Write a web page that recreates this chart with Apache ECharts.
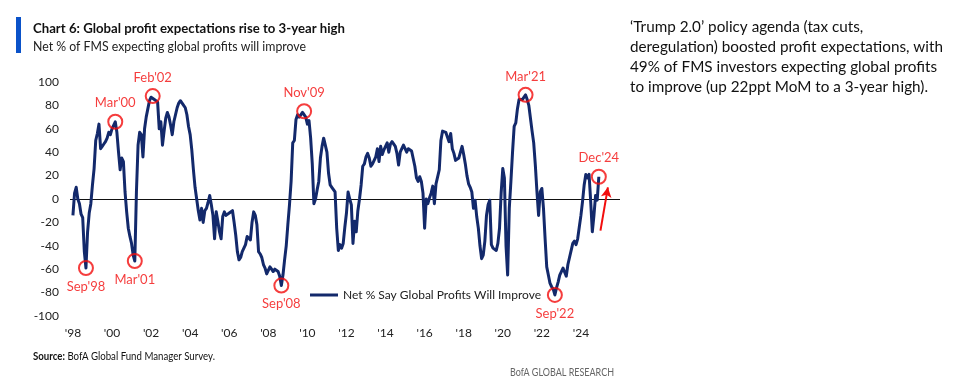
<!DOCTYPE html>
<html>
<head>
<meta charset="utf-8">
<script src="https://cdn.jsdelivr.net/npm/echarts@6/dist/echarts.min.js"></script>
<style>
html,body{margin:0;padding:0;background:#fff;}
#chart{width:956px;height:386px;}
</style>
</head>
<body>
<div id="chart"></div>
<script>
// ---- Data (monthly, Jan..Dec), net % expecting global profits to improve ----
const v1998 = [-14, 5, 10, 0, -4, -13, -16, -45, -59, -28, -12, -4];
const v1999 = [12, 26, 50, 56, 64, 43, 45, 47, 49, 52, 57, 55];
const v2000 = [60, 63, 66, 57, 40, 25, 35, 32, 6, -11, -25, -32];
const v2001 = [-38, -48, -53, 6, 46, 57, 55, 36, 60, 70, 77, 84];
const v2002 = [87, 88, 85, 84, 83, 60, 66, 46, 58, 69, 74, 70];
const v2003 = [63, 55, 66, 72, 78, 82, 84, 83, 80, 78, 72, 62];
const v2004 = [55, 42, 25, 10, 0, -10, -18, -8, -20, -10, -8, -3];
const v2005 = [3, -5, -14, -34, -11, -19, -28, -34, -15, -11, -14, -13];
const v2006 = [-12, -11, -10, -20, -31, -45, -52, -50, -45, -42, -39, -32];
const v2007 = [-33, -35, -20, -11, -14, -22, -45, -47, -50, -56, -59, -64];
const v2008 = [-63, -58, -60, -62, -60, -59, -62, -66, -74, -65, -52, -40];
const v2009 = [-22, -5, 15, 48, 50, 68, 72, 70, 71, 74, 75, 70];
const v2010 = [64, 67, 52, 30, -4, 0, 8, 15, 35, 45, 52, 52];
const v2011 = [40, 22, 12, 10, 8, 6, -25, -44, -39, -42, -38, -24];
const v2012 = [-12, 6, 0, -5, -38, -19, -28, -10, 0, 12, 28, 30];
const v2013 = [36, 39, 35, 28, 30, 29, 36, 43, 32, 45, 38, 42];
const v2014 = [45, 48, 40, 47, 49, 48, 45, 39, 29, 40, 39, 46];
const v2015 = [43, 40, 43, 42, 41, 40, 28, 18, 15, 19, 15, 5];
const v2016 = [-25, 0, -4, 1, 5, 11, -4, 13, 12, 25, 50, 58];
const v2017 = [58, 57, 56, 49, 56, 43, 39, 33, 34, 35, 40, 45];
const v2018 = [38, 30, 20, 13, 10, 6, -8, -1, -15, -25, -40, -51];
const v2019 = [-48, -36, -14, -5, -1, -39, -42, -43, -44, -38, -25, 5];
const v2020 = [26, 18, -40, -65, -8, 15, 40, 62, 65, 77, 85, 85];
const v2021 = [85, 86, 89, 85, 80, 69, 58, 48, 29, 6, -14, 6];
const v2022 = [9, -8, -34, -58, -65, -72, -75, -77, -82, -76, -71, -65];
const v2023 = [-62, -59, -58, -66, -56, -50, -49, -38, -36, -39, -34, -24];
const v2024 = [-14, -2, 12, 21, 18, 21, -2, -28, -14, 3, -1, 19];

const years = [1998,1999,2000,2001,2002,2003,2004,2005,2006,2007,2008,2009,2010,2011,2012,2013,2014,2015,2016,2017,2018,2019,2020,2021,2022,2023,2024];
const yearValues = [v1998,v1999,v2000,v2001,v2002,v2003,v2004,v2005,v2006,v2007,v2008,v2009,v2010,v2011,v2012,v2013,v2014,v2015,v2016,v2017,v2018,v2019,v2020,v2021,v2022,v2023,v2024];

const xTickYears = [1998,2000,2002,2004,2006,2008,2010,2012,2014,2016,2018,2020,2022,2024];
const yTicks = [-100,-80,-60,-40,-20,0,20,40,60,80,100];

const seriesName = 'Net % Say Global Profits Will Improve';

// annotations: label, year, month (1-12), label side
const annLabels = ["Sep'98", "Mar'00", "Mar'01", "Feb'02", "Sep'08", "Nov'09", "Mar'21", "Sep'22", "Dec'24"];
const annYears  = [1998, 2000, 2001, 2002, 2008, 2009, 2021, 2022, 2024];
const annMonths = [9, 3, 3, 2, 9, 11, 3, 9, 12];
const annSides  = ['bottom','top','bottom','top','bottom','top','top','bottom','top'];

// arrow annotation (data space): from, to
const arrowFrom = [2025.0, -27];
const arrowTo = [2025.38, 10];

const titleText = 'Chart 6: Global profit expectations rise to 3-year high';
const subtitleText = 'Net % of FMS expecting global profits will improve';
const noteLines = [
  '‘Trump 2.0’ policy agenda (tax cuts,',
  'deregulation) boosted profit expectations, with',
  '49% of FMS investors expecting global profits',
  'to improve (up 22ppt MoM to a 3-year high).'
];
const sourceBold = 'Source:';
const sourceText = ' BofA Global Fund Manager Survey.';
const brandText = 'BofA GLOBAL RESEARCH';

// ---- build ----
const lineData = [];
years.forEach((y, i) => {
  yearValues[i].forEach((v, m) => lineData.push([y + m / 12, v]));
});
const annData = annLabels.map((lab, i) => {
  const yi = years.indexOf(annYears[i]);
  const v = yearValues[yi][annMonths[i] - 1];
  return {
    value: [annYears[i] + (annMonths[i] - 1) / 12, v],
    name: lab,
    label: { position: annSides[i] }
  };
});

const FONT = 'Lato, "Noto Sans", sans-serif';
const mctx = document.createElement('canvas').getContext('2d');
function tw(text, font) { mctx.font = font; return mctx.measureText(text).width; }
function fitScale(text, font, target) { const w = tw(text, font); return w > 0 ? target / w : 1; }

const titleFont = 'bold 14px ' + FONT;
const subFont = '14px ' + FONT;
const noteFont = '15px ' + FONT;
const srcBFont = 'bold 11px ' + FONT;
const srcFont = '11px ' + FONT;
const brandFont = '11px ' + FONT;

const titleScale = fitScale(titleText, titleFont, 312);
const subScale = fitScale(subtitleText, subFont, 273);
const noteScale = fitScale(noteLines[1], noteFont, 313);
const srcScale = 182 / (tw(sourceBold, srcBFont) + tw(sourceText, srcFont));
const brandScale = fitScale(brandText, brandFont, 104);

const graphics = [
  { type: 'rect', shape: { x: 16, y: 17, width: 5, height: 36 }, style: { fill: '#0a52c9' } },
  { type: 'text', x: 33, y: 28, scaleX: titleScale, style: { text: titleText, font: titleFont, fill: '#111', textVerticalAlign: 'middle' } },
  { type: 'text', x: 33, y: 46, scaleX: subScale, style: { text: subtitleText, font: subFont, fill: '#222', textVerticalAlign: 'middle' } },
  { type: 'text', x: 33, y: 356, scaleX: srcScale, style: { rich: { b: { font: srcBFont, fill: '#111' }, n: { font: srcFont, fill: '#111' } }, text: '{b|' + sourceBold + '}{n|' + sourceText + '}', textVerticalAlign: 'middle' } },
  { type: 'text', x: 614, y: 372, scaleX: brandScale, style: { text: brandText, font: brandFont, fill: '#666', textAlign: 'right', textVerticalAlign: 'middle' } }
];
noteLines.forEach((t, i) => {
  graphics.push({ type: 'text', x: 630, y: 27 + i * 20, scaleX: noteScale, style: { text: t, font: noteFont, fill: '#111', textVerticalAlign: 'middle' } });
});

const chart = echarts.init(document.getElementById('chart'), null, { renderer: 'canvas' });
chart.setOption({
  animation: false,
  backgroundColor: '#fff',
  grid: { left: 70, right: 336, top: 82, bottom: 70 },
  xAxis: {
    type: 'value',
    min: 1997.85,
    max: 2026,
    axisLine: { show: false },
    axisTick: { show: false },
    splitLine: { show: false },
    axisLabel: {
      customValues: xTickYears,
      formatter: v => "'" + String(Math.round(v)).slice(2),
      color: '#222',
      fontFamily: FONT,
      fontSize: 12,
      margin: 11
    }
  },
  yAxis: {
    type: 'value',
    min: -100,
    max: 100,
    interval: 20,
    axisLine: { show: false },
    axisTick: { show: false },
    splitLine: { show: false },
    axisLabel: { color: '#222', fontFamily: FONT, fontSize: 12, margin: 11 }
  },
  legend: {
    data: [seriesName],
    left: 305,
    top: 284,
    icon: 'rect',
    itemWidth: 28,
    itemHeight: 3,
    itemGap: 5,
    textStyle: { color: '#222', fontFamily: FONT, fontSize: 12 }
  },
  series: [
    {
      name: seriesName,
      type: 'line',
      data: lineData,
      showSymbol: false,
      symbol: 'none',
      lineStyle: { color: '#13296b', width: 3, join: 'round' },
      itemStyle: { color: '#13296b' },
      z: 3,
      markLine: {
        silent: true,
        symbol: ['none', 'none'],
        label: { show: false },
        lineStyle: { color: '#111', width: 1, type: 'solid' },
        data: [{ yAxis: 0 }],
        z: 1
      }
    },
    {
      name: 'annotations',
      type: 'scatter',
      data: annData,
      symbol: 'circle',
      symbolSize: 14,
      itemStyle: { color: 'rgba(0,0,0,0)', borderColor: '#f20d0d', borderWidth: 2 },
      label: {
        show: true,
        formatter: p => p.name,
        color: '#f20d0d',
        fontFamily: FONT,
        fontSize: 13,
        distance: 4
      },
      z: 5,
      markLine: {
        silent: true,
        symbol: ['none', 'arrow'],
        symbolSize: [8, 10],
        label: { show: false },
        lineStyle: { color: '#f20d0d', width: 2, type: 'solid' },
        data: [[{ coord: arrowFrom }, { coord: arrowTo }]]
      }
    }
  ],
  graphic: graphics
});
</script>
</body>
</html>
